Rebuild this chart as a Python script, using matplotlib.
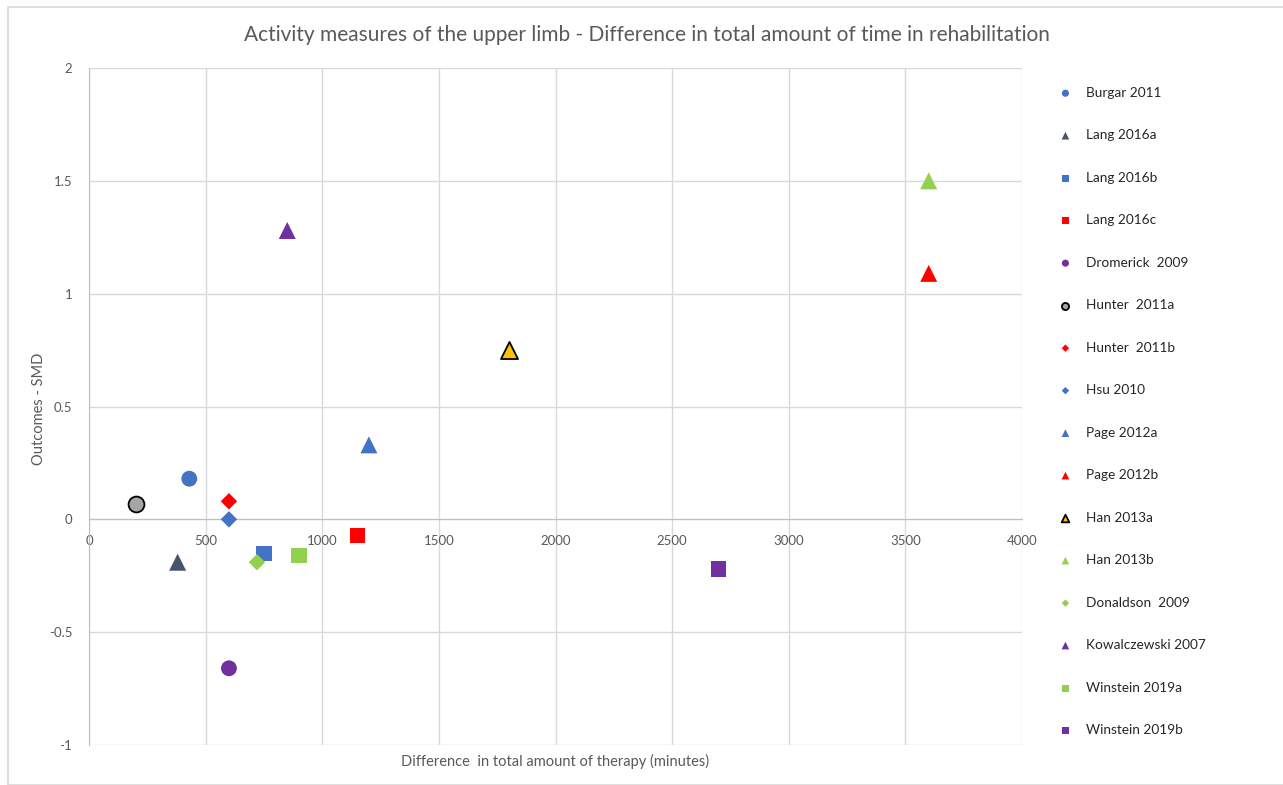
import matplotlib
matplotlib.use("Agg")
import matplotlib.pyplot as plt
from matplotlib.patches import Rectangle

plt.rcParams['font.family'] = ['Lato', 'DejaVu Sans']

studies = ["Burgar 2011", "Lang 2016a", "Lang 2016b", "Lang 2016c", "Dromerick  2009",
           "Hunter  2011a", "Hunter  2011b", "Hsu 2010", "Page 2012a", "Page 2012b",
           "Han 2013a", "Han 2013b", "Donaldson  2009", "Kowalczewski 2007",
           "Winstein 2019a", "Winstein 2019b"]
minutes = [430, 380, 750, 1150, 600, 200, 600, 600, 1200, 3600, 1800, 3600, 720, 850, 900, 2700]
smd = [0.18, -0.19, -0.15, -0.07, -0.66, 0.07, 0.08, 0.0, 0.33, 1.09, 0.75, 1.5, -0.19, 1.28, -0.16, -0.22]

markers = ['o', '^', 's', 's', 'o', 'o', 'D', 'D', '^', '^', '^', '^', 'D', '^', 's', 's']
colors = ['#4472C4', '#44546A', '#4472C4', '#FF0000', '#7030A0', '#A5A5A5', '#FF0000', '#4472C4',
          '#4472C4', '#FF0000', '#FFC000', '#92D050', '#92D050', '#7030A0', '#92D050', '#7030A0']
edges = ['none'] * 16
edges[5] = '#000000'
edges[10] = '#000000'
sizes = {'o': 130, '^': 150, 's': 120, 'D': 70}

fig = plt.figure(figsize=(12.83, 7.85), dpi=100)
fig.patches.append(Rectangle((8 / 1283, 0), 1, 1 - 7 / 785, transform=fig.transFigure,
                             fill=False, edgecolor='#d9d9d9', linewidth=1.2))
ax = fig.add_axes([89 / 1283, 1 - 745 / 785, (1022 - 89) / 1283, (745 - 68) / 785])

for i in range(len(studies)):
    ax.scatter(minutes[i], smd[i], marker=markers[i], s=sizes[markers[i]], c=colors[i],
               edgecolors=edges[i], linewidths=1.3 if edges[i] != 'none' else 0,
               label=studies[i], zorder=3)

ax.set_xlim(0, 4000)
ax.set_ylim(-1, 2)
ax.set_xticks([0, 500, 1000, 1500, 2000, 2500, 3000, 3500, 4000])
ax.set_yticks([-1, -0.5, 0, 0.5, 1, 1.5, 2])
ax.set_yticklabels(['-1', '-0.5', '0', '0.5', '1', '1.5', '2'])
ax.grid(True, color='#d9d9d9', linewidth=1.0, zorder=0)
ax.set_axisbelow(True)
for s in ['top', 'right']:
    ax.spines[s].set_visible(False)
ax.spines['bottom'].set_position(('data', 0))
ax.spines['bottom'].set_color('#bfbfbf')
ax.spines['left'].set_color('#bfbfbf')
ax.tick_params(length=0, labelsize=9.5, colors='#595959')
ax.tick_params(axis='x', pad=11)
ax.tick_params(axis='y', pad=12)

fig.text(647 / 1283, 1 - 35 / 785,
         "Activity measures of the upper limb - Difference in total amount of time in rehabilitation",
         ha='center', va='center', fontsize=15, color='#595959')
fig.text(555 / 1283, 1 - 761 / 785, "Difference  in total amount of therapy (minutes)",
         ha='center', va='center', fontsize=10.5, color='#595959')
fig.text(39 / 1283, 1 - 409 / 785, "Outcomes - SMD", rotation=90,
         ha='center', va='center', fontsize=10.5, color='#595959')

leg = ax.legend(loc='upper left', bbox_to_anchor=(1045 / 1283, 1 - 80 / 785),
                bbox_transform=fig.transFigure, frameon=False, fontsize=9.8,
                markerscale=0.45, labelspacing=2.24, handletextpad=0.5, borderpad=0)
for t in leg.get_texts():
    t.set_color('#262626')

fig.savefig("out.png", dpi=100)
